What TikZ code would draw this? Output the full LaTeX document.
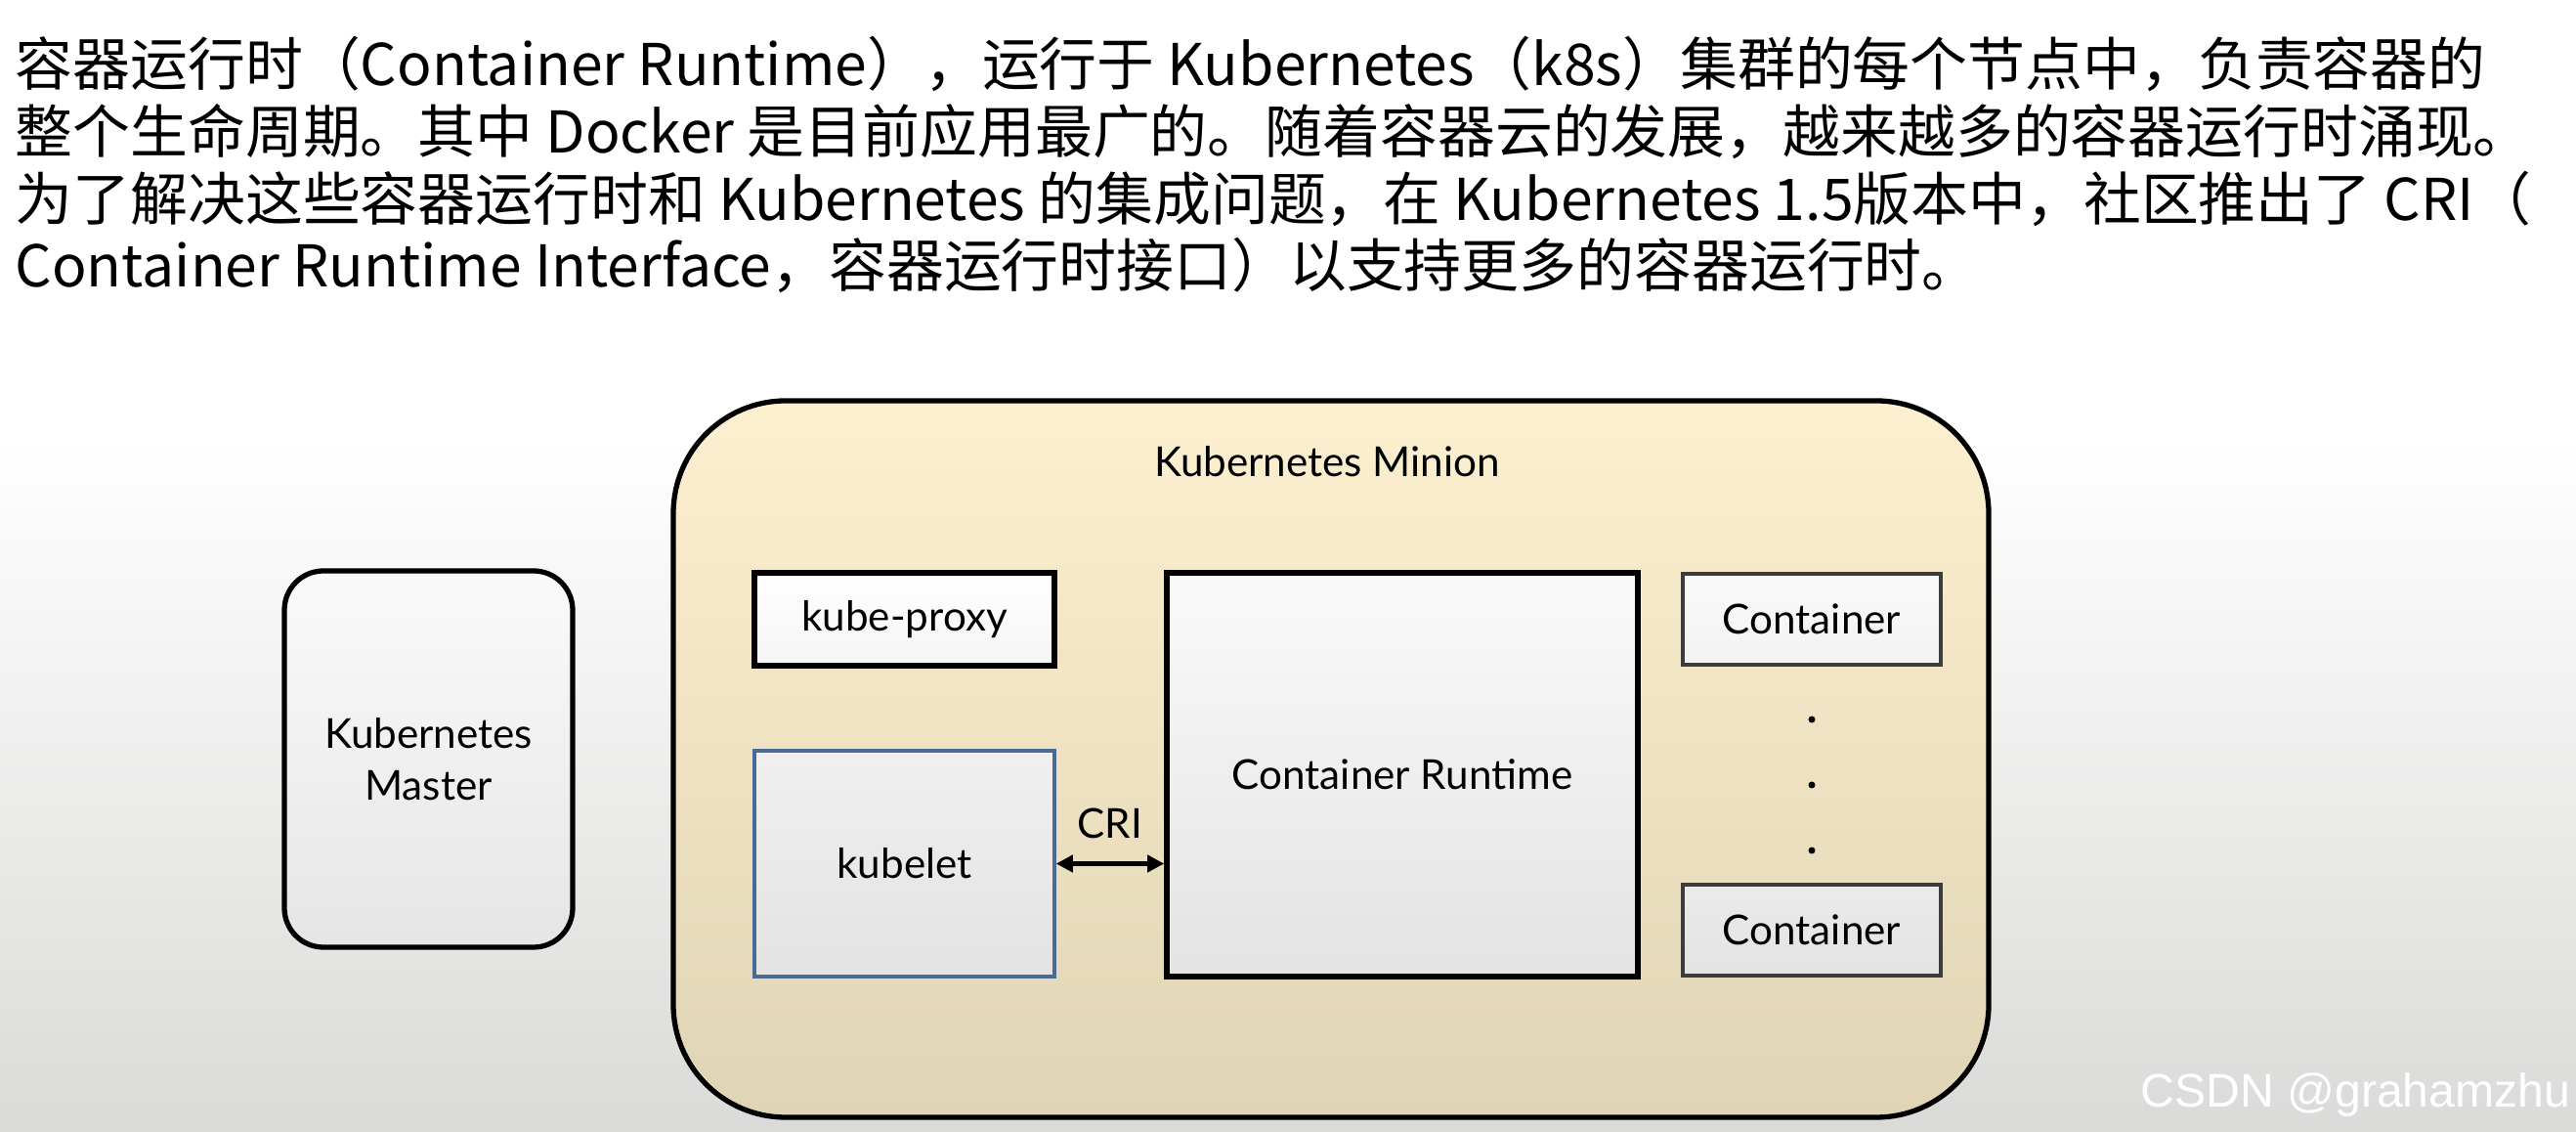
\documentclass[tikz,border=0pt]{standalone}
\usepackage{fontspec}
\setmainfont{Lato}
\newfontfamily\cjkfont{Noto Sans CJK SC}
\newfontfamily\markfont{Liberation Sans}
\usetikzlibrary{arrows.meta, positioning, calc}
\definecolor{miniontop}{RGB}{253, 240, 208}
\definecolor{minionbottom}{RGB}{223, 212, 181}
\definecolor{bggray}{RGB}{218, 218, 216}
\definecolor{kubeletblue}{RGB}{74, 106, 150}
\definecolor{boxgray}{RGB}{60, 60, 60}

\begin{document}
\begin{tikzpicture}[
    lbl/.style={font=\fontsize{12}{15}\selectfont},
    thickbox/.style={draw=black, line width=1.6pt, inner sep=0pt, lbl},
    thinbox/.style={draw=boxgray, line width=1pt, inner sep=0pt, lbl},
    intro/.style={font=\cjkfont\fontsize{16.75}{20}\selectfont, anchor=base west, inner sep=0pt}
]

\useasboundingbox (0,0) rectangle (26.36,11.58);

% Background
\fill[white] (0,0) rectangle (26.36,11.58);
\fill[top color=white, bottom color=bggray] (0,0) rectangle (26.36,7.1);

% Intro text
\node[intro] (line1) at (0.15,10.70) {容器运行时（Container Runtime），运行于 Kubernetes（k8s）集群的每个节点中，负责容器的};
\node[intro] (line2) at (0.15,10.01) {整个生命周期。其中 Docker 是目前应用最广的。随着容器云的发展，越来越多的容器运行时涌现。};
\node[intro] (line3) at (0.15,9.32) {为了解决这些容器运行时和 Kubernetes 的集成问题，在 Kubernetes 1.5版本中，社区推出了 CRI（};
\node[intro] (line4) at (0.15,8.64) {Container Runtime Interface，容器运行时接口）以支持更多的容器运行时。};

% Master
\node[draw=black, line width=1.5pt, rounded corners=0.4cm, top color=black!2, bottom color=black!10,
      minimum width=2.95cm, minimum height=3.85cm, align=center, lbl] (master) at (4.385,3.815) {Kubernetes\\Master};

% Minion
\node[draw=black, line width=1.5pt, rounded corners=1.15cm, top color=miniontop, bottom color=minionbottom,
      minimum width=13.46cm, minimum height=7.33cm] (minion) at (13.62,3.815) {};
\node[lbl] (miniontitle) at (13.58,6.86) {Kubernetes Minion};

% Node components
\node[thickbox, top color=white, bottom color=black!4, minimum width=3.07cm, minimum height=0.95cm] (proxy) at (9.255,5.245) {kube-proxy};
\node[draw=kubeletblue, line width=1pt, top color=black!6, bottom color=black!11,
      minimum width=3.07cm, minimum height=2.31cm, lbl] (kubelet) at (9.255,2.745) {kubelet};
\node[thickbox, top color=black!2, bottom color=black!11, minimum width=4.82cm, minimum height=4.13cm] (runtime) at (14.35,3.655) {Container Runtime};

% Containers
\node[thinbox, top color=black!2, bottom color=black!5, minimum width=2.64cm, minimum height=0.93cm] (cont1) at (18.54,5.245) {Container};
\node[thinbox, top color=black!8, bottom color=black!11, minimum width=2.64cm, minimum height=0.93cm] (cont2) at (18.54,2.065) {Container};
\foreach \y in {4.22,3.55,2.88} {
    \fill (18.54,\y) circle (0.035);
}

% CRI
\draw[{Triangle[length=0.17cm,width=0.17cm]}-{Triangle[length=0.17cm,width=0.17cm]}, line width=1.3pt]
    (kubelet.east) -- (kubelet.east -| runtime.west) node[midway, above=0.115cm, lbl] (crilabel) {CRI};

% Watermark
\node[font=\markfont\fontsize{13.7}{16}\selectfont, text=white, anchor=base east, inner sep=0pt] (mark) at (26.31,0.25) {CSDN @grahamzhu};

\end{tikzpicture}
\end{document}
